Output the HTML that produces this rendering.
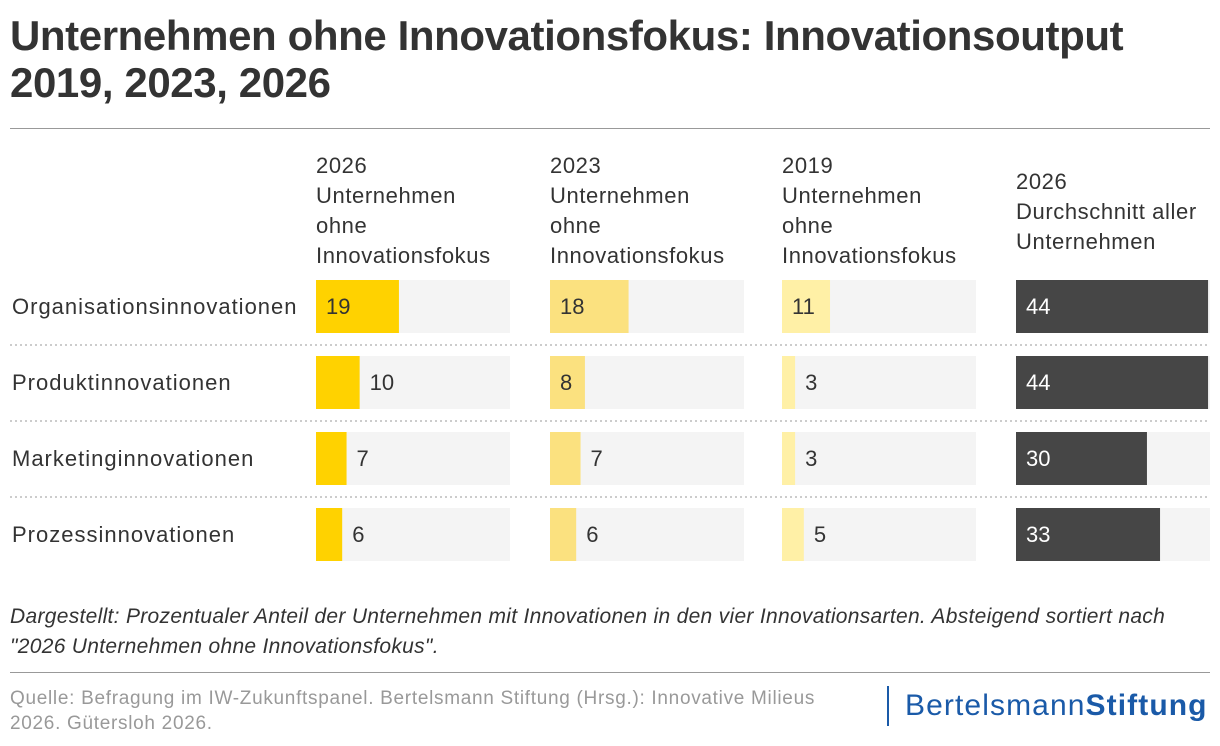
<!DOCTYPE html>
<html><head><meta charset="utf-8"><style>
body{margin:0;width:1220px;height:746px;background:#fff;font-family:"Liberation Sans",sans-serif;color:#333;position:relative;overflow:hidden}
.t{position:absolute;left:10px;top:12px;font-size:42px;font-weight:bold;line-height:47px;color:#333;letter-spacing:-0.4px}
.hr{position:absolute;left:10px;width:1200px;height:1px;background:#999}
.ch{position:absolute;font-size:22px;line-height:30px;color:#333;letter-spacing:0.6px}
.note{position:absolute;left:10px;top:602px;font-size:21px;font-style:italic;line-height:30px;color:#333;width:1200px;letter-spacing:0.3px}
.src{position:absolute;left:10px;top:686px;font-size:19px;line-height:25px;color:#999;letter-spacing:0.7px}
.logo{position:absolute;left:887px;top:686px;height:40px;border-left:2px solid #1a5aa8;padding-left:16px;font-size:30px;line-height:40px;color:#1a5aa8;letter-spacing:1.1px}
</style></head><body>
<div class="t">Unternehmen ohne Innovationsfokus: Innovationsoutput<br>2019, 2023, 2026</div>
<div class="hr" style="top:128px"></div>
<div class="ch" style="left:316px;top:151px">2026<br>Unternehmen<br>ohne<br>Innovationsfokus</div>
<div class="ch" style="left:550px;top:151px">2023<br>Unternehmen<br>ohne<br>Innovationsfokus</div>
<div class="ch" style="left:782px;top:151px">2019<br>Unternehmen<br>ohne<br>Innovationsfokus</div>
<div class="ch" style="left:1016px;top:167px">2026<br>Durchschnitt aller<br>Unternehmen</div>
<svg id="c" width="1220" height="746" style="position:absolute;left:0;top:0"></svg>
<div class="note">Dargestellt: Prozentualer Anteil der Unternehmen mit Innovationen in den vier Innovationsarten. Absteigend sortiert nach<br>"2026 Unternehmen ohne Innovationsfokus".</div>
<div class="hr" style="top:672px"></div>
<div class="src">Quelle: Befragung im IW-Zukunftspanel. Bertelsmann Stiftung (Hrsg.): Innovative Milieus<br>2026. Gütersloh 2026.</div>
<div class="logo">Bertelsmann<b>Stiftung</b></div>
<script>
const categories=["Organisationsinnovationen","Produktinnovationen","Marketinginnovationen","Prozessinnovationen"];
const s2026=[19,10,7,6];
const s2023=[18,8,7,6];
const s2019=[11,3,3,5];
const avg2026=[44,44,30,33];
const series=[s2026,s2023,s2019,avg2026];
const colX=[316,550,782,1016],colors=["#ffd200","#fbe17f","#fff0a6","#464646"];
const colW=194,maxV=44,rowY0=280,rowH=76,barH=53;
const x=v=>v/maxV*colW*0.99;
const svg=document.getElementById('c'),NS='http://www.w3.org/2000/svg';
function mk(t,a){const e=document.createElementNS(NS,t);for(const k in a)e.setAttribute(k,a[k]);svg.appendChild(e);return e;}
categories.forEach((c,i)=>{
  const y=rowY0+i*rowH;
  const l=mk('text',{x:12,y:y+34,'font-size':22,fill:'#333','letter-spacing':1});l.textContent=c;
  
  
  if(i>0){const s=mk('line',{x1:10,x2:1210,y1:y-11,y2:y-11,stroke:'#ccc','stroke-width':2,'stroke-dasharray':'2 3'});
    
    }
  series.forEach((d,j)=>{
    const bg=mk('rect',{x:colX[j],y:y,width:colW,height:barH,fill:'#f4f4f4'});
    
    
    const w=x(d[i]);
    const b=mk('rect',{x:colX[j],y:y,width:w,height:barH,fill:colors[j]});
    
    
    const t=mk('text',{x:colX[j]+10,y:y+34,'font-size':22,fill:'#333'});
    t.textContent=d[i];
    
    
    const tw=t.getComputedTextLength();
    const inside=(w-tw)>=22;
    if(!inside)t.setAttribute('x',colX[j]+w+10);
    else if(j==3)t.setAttribute('fill','#fff');
  });
});
</script>
</body></html>
